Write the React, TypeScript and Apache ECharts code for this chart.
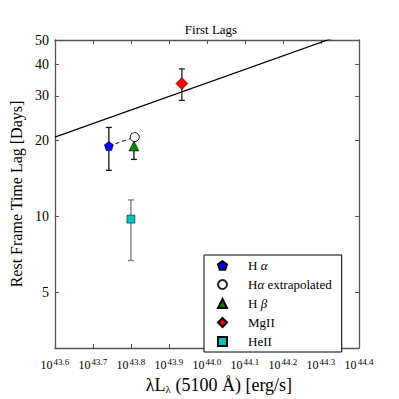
import React, { useEffect, useRef } from 'react';
import * as echarts from 'echarts';

// ---- data ----
const xTicks = [43.6, 43.7, 43.8, 43.9, 44.0, 44.1, 44.2, 44.3, 44.4];
const yTicks = [5, 10, 20, 30, 40, 50];
const seriesNames = ['H α', 'Hα extrapolated', 'H β', 'MgII', 'HeII'];
const logL = [43.742, 43.81, 43.808, 43.934, 43.8];
const lag = [19.0, 20.6, 19.0, 33.6, 9.74];
const lagLow = [15.2, null, 16.8, 28.8, 6.67];
const lagHigh = [22.5, null, 21.2, 38.4, 11.6];
const fitX = [43.6, 44.4];
const fitY = [20.6, 55.4];
const linkIdx = [0, 1]; // dashed link: Hα -> Hα extrapolated

// ---- styles ----
const FONT = 'Liberation Serif';
const symbols = [
  'path://M0,-1 L0.951,-0.309 L0.588,0.809 L-0.588,0.809 L-0.951,-0.309 Z',
  'circle',
  'triangle',
  'diamond',
  'rect',
];
const colors = ['#0000ff', '#ffffff', '#007f00', '#ff0000', '#00bfbf'];
const sizes: any[] = [9, 9, 10, 12, 8];
const errColors = ['#111', '#111', '#111', '#222', '#777'];

export default function App() {
  const ref = useRef<HTMLDivElement>(null);
  useEffect(() => {
    if (!ref.current) return;
    const chart = echarts.init(ref.current, null, { renderer: 'svg' });

    const axisLine = { show: true, lineStyle: { color: '#555', width: 1.3 } };
    const tickStyle = { show: true, inside: true, length: 4, lineStyle: { color: '#555', width: 1 } };

    const scatterSeries = seriesNames.map((name, i) => ({
      name,
      type: 'scatter',
      xAxisIndex: 0,
      yAxisIndex: 0,
      symbol: symbols[i],
      symbolSize: sizes[i],
      z: 5,
      itemStyle: {
        color: colors[i],
        borderColor: i === 1 ? '#222' : '#000',
        borderWidth: i === 1 ? 1 : 0.5,
        opacity: 1,
      },
      data: [[logL[i], lag[i]]],
    }));

    const errData: any[] = [];
    seriesNames.forEach((_, i) => {
      if (lagLow[i] != null && lagHigh[i] != null) {
        errData.push({ value: [logL[i], lagLow[i], lagHigh[i]], itemStyle: { color: errColors[i] } });
      }
    });

    const xBase = {
      type: 'value',
      min: xTicks[0],
      max: xTicks[xTicks.length - 1],
      interval: 0.1,
      splitLine: { show: false },
    };

    const option: any = {
      animation: false,
      backgroundColor: '#fff',
      title: {
        text: 'First Lags',
        left: 206,
        textAlign: 'center',
        top: 18,
        textStyle: { fontFamily: FONT, fontSize: 13, fontWeight: 'normal', color: '#000' },
      },
      grid: { left: 50, right: 40, top: 40, bottom: 41, containLabel: false },
      legend: {
        data: seriesNames,
        orient: 'vertical',
        left: 204,
        top: 255,
        width: 149,
        padding: [3, 10, 3, 13],
        itemWidth: 9,
        itemHeight: 9,
        itemGap: 4,
        backgroundColor: '#fff',
        borderColor: '#000',
        borderWidth: 1,
        borderRadius: 0,
        formatter: (name: string) => name.replace('α', '{i|α}').replace('β', '{i|β}'),
        textStyle: {
          fontFamily: FONT,
          fontSize: 13,
          color: '#000',
          lineHeight: 15,
          padding: [0, 0, 0, 16],
          rich: { i: { fontFamily: FONT, fontStyle: 'italic', fontSize: 13, color: '#000', lineHeight: 15 } },
        },
      },
      xAxis: [
        {
          ...xBase,
          position: 'bottom',
          axisLine,
          axisTick: tickStyle,
          axisLabel: {
            margin: 11,
            color: '#000',
            fontFamily: FONT,
            fontSize: 12,
            align: 'center',
            padding: [0, 17, 0, 0],
            hideOverlap: false,
            formatter: () => '10',
          },
          name: '{a|λL}{sub|λ}{a| (5100 Å) [erg/s]}',
          nameLocation: 'middle',
          nameGap: 28,
          nameTextStyle: {
            padding: [0, 0, 0, 24],
            rich: {
              a: { fontFamily: FONT, fontSize: 18, color: '#000' },
              sub: { fontFamily: FONT, fontSize: 11, color: '#000', padding: [7, 0, 0, 0] },
            },
          },
        },
        {
          ...xBase,
          position: 'top',
          axisLine,
          axisTick: tickStyle,
          axisLabel: { show: false },
        },
        {
          ...xBase,
          position: 'bottom',
          axisLine: { show: false },
          axisTick: { show: false },
          axisLabel: {
            margin: 9,
            color: '#000',
            fontFamily: FONT,
            fontSize: 9,
            align: 'center',
            padding: [0, 0, 0, 13],
            hideOverlap: false,
            formatter: (v: number) => v.toFixed(1),
          },
        },
      ],
      yAxis: [
        {
          type: 'log',
          logBase: 10,
          min: 3,
          max: 50,
          position: 'left',
          axisLine,
          axisTick: { ...tickStyle, customValues: yTicks },
          minorTick: { show: false },
          splitLine: { show: false },
          axisLabel: {
            customValues: yTicks,
            margin: 6,
            fontFamily: FONT,
            fontSize: 14,
            color: '#000',
          },
          name: 'Rest Frame Time Lag [Days]',
          nameLocation: 'middle',
          nameGap: 26,
          nameTextStyle: { fontFamily: FONT, fontSize: 16, color: '#000' },
        },
        {
          type: 'log',
          logBase: 10,
          min: 3,
          max: 50,
          position: 'right',
          axisLine,
          axisTick: { ...tickStyle, customValues: yTicks },
          axisLabel: { show: false, customValues: yTicks },
          splitLine: { show: false },
        },
      ],
      series: [
        {
          name: 'fit',
          type: 'line',
          xAxisIndex: 0,
          yAxisIndex: 0,
          showSymbol: false,
          symbol: 'none',
          clip: true,
          z: 1,
          lineStyle: { color: '#000', width: 1.2 },
          data: fitX.map((x, i) => [x, fitY[i]]),
        },
        {
          name: 'link',
          type: 'line',
          xAxisIndex: 0,
          yAxisIndex: 0,
          symbol: 'none',
          z: 2,
          lineStyle: { color: '#000', width: 1, type: [4, 3] },
          data: linkIdx.map((i) => [logL[i], lag[i]]),
        },
        {
          name: 'errors',
          type: 'custom',
          xAxisIndex: 0,
          yAxisIndex: 0,
          z: 3,
          renderItem: (params: any, api: any) => {
            const x = api.value(0);
            const lo = api.value(1);
            const hi = api.value(2);
            const pTop = api.coord([x, hi]);
            const pBot = api.coord([x, lo]);
            const c = api.visual('color');
            const cap = 3;
            const style = { stroke: c, lineWidth: 1.3 };
            return {
              type: 'group',
              children: [
                { type: 'line', shape: { x1: pTop[0], y1: pTop[1], x2: pBot[0], y2: pBot[1] }, style },
                { type: 'line', shape: { x1: pTop[0] - cap, y1: pTop[1], x2: pTop[0] + cap, y2: pTop[1] }, style },
                { type: 'line', shape: { x1: pBot[0] - cap, y1: pBot[1], x2: pBot[0] + cap, y2: pBot[1] }, style },
              ],
            };
          },
          data: errData,
        },
        ...scatterSeries,
      ],
    };
    chart.setOption(option);
    return () => chart.dispose();
  }, []);
  return <div ref={ref} style={{ width: 399, height: 399, position: 'absolute', left: 0, top: 0 }} />;
}
